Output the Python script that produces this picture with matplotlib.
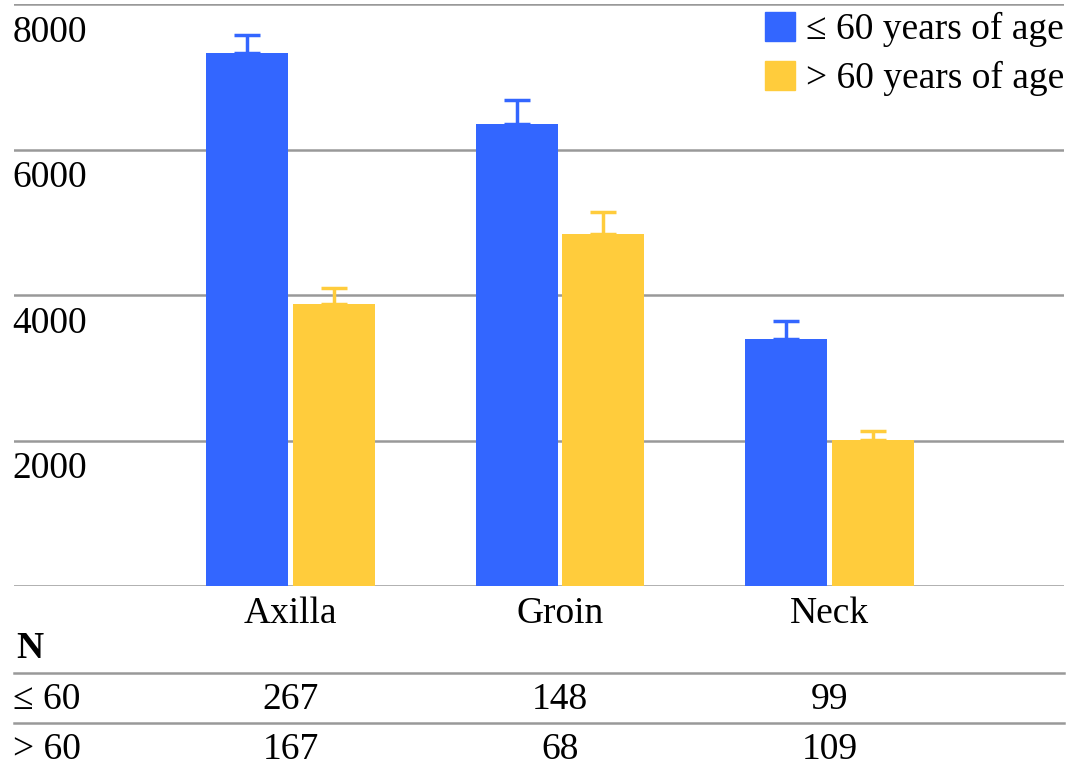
""" Mean values by site and age group, with N table below """

import numpy as np
from matplotlib import pyplot as plt
from matplotlib import transforms
from matplotlib.lines import Line2D
from matplotlib.patches import Patch

categories = ["Axilla", "Groin", "Neck"]
young_vals = [7330, 6350, 3395]
young_err = [245, 330, 250]
old_vals = [3875, 4840, 2005]
old_err = [220, 300, 125]
series_names = ["\u2264 60 years of age", "> 60 years of age"]
row_names = ["\u2264 60", "> 60"]
young_n = [267, 148, 99]
old_n = [167, 68, 109]
y_ticks = [2000, 4000, 6000, 8000]

BLUE = "#3366ff"
YELLOW = "#ffcc3c"
GRID = "#999999"
W, H = 1074, 774
FS = 27

plt.rcParams["font.family"] = ["Liberation Serif", "DejaVu Serif"]
plt.rcParams["font.size"] = FS

fig = plt.figure(figsize=(W / 100, H / 100), dpi=100)
ax = fig.add_axes([14 / W, 1 - 586 / H, 1050 / W, 582 / H])

x = np.arange(len(categories))
width = 0.304
off = 0.16

ax.bar(x - off, young_vals, width, color=BLUE, zorder=3)
ax.bar(x + off, old_vals, width, color=YELLOW, zorder=3)
ax.errorbar(x - off, young_vals, yerr=[np.zeros(3), young_err], fmt="none",
            ecolor=BLUE, elinewidth=2.5, capsize=9.5, capthick=2.5, zorder=4)
ax.errorbar(x + off, old_vals, yerr=[np.zeros(3), old_err], fmt="none",
            ecolor=YELLOW, elinewidth=2.5, capsize=9.5, capthick=2.5, zorder=4)

ax.set_xlim(-1.026, 2.870)
ax.set_ylim(0, 8000)
for s in ax.spines.values():
    s.set_visible(False)
ax.set_xticks([])
ax.set_yticks([])

for v in [0] + y_ticks:
    ax.axhline(v, color=GRID, lw=1.8, zorder=1)
for v in y_ticks:
    ax.text(-1.031, v - 395, str(v), ha="left", va="center")

# legend
handles = [Patch(color=BLUE), Patch(color=YELLOW)]
fig.legend(handles, series_names, loc="upper right",
           bbox_to_anchor=(1064 / W, 1 - 12 / H), frameon=False,
           borderpad=0, borderaxespad=0, handlelength=0.8, handleheight=0.8,
           handletextpad=0.3, labelspacing=0.36, fontsize=FS)

# category labels and N table
mix = transforms.blended_transform_factory(ax.transData, fig.transFigure)
for i, c in enumerate(categories):
    ax.text(i, 1 - 614 / H, c, transform=mix, ha="center", va="center")
    ax.text(i, 1 - 700 / H, str(young_n[i]), transform=mix, ha="center", va="center")
    ax.text(i, 1 - 750 / H, str(old_n[i]), transform=mix, ha="center", va="center")

fig.text(16 / W, 1 - 648 / H, "N", ha="left", va="center", fontweight="bold")
fig.text(13 / W, 1 - 700 / H, row_names[0], ha="left", va="center")
fig.text(13 / W, 1 - 750 / H, row_names[1], ha="left", va="center")

for py in [673, 723]:
    fig.add_artist(Line2D([14 / W, 1064 / W], [1 - py / H, 1 - py / H],
                          color=GRID, lw=1.8, transform=fig.transFigure))

fig.savefig("out.png", dpi=100)
